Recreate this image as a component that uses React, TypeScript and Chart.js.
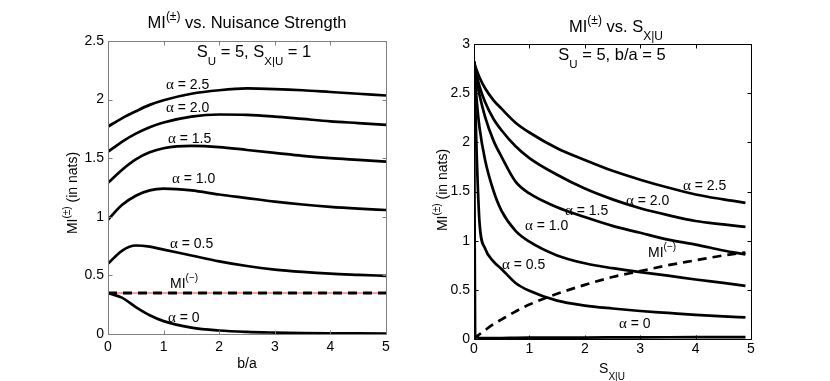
import React, { useEffect, useRef } from 'react';
import { Chart, registerables } from 'chart.js';
Chart.register(...registerables);

const SANS = '"Liberation Sans", Arial, sans-serif';
const SERIF = '"Liberation Serif", "DejaVu Serif", serif';

// ---------- Left panel: MI vs b/a ----------
const baRatio = [0, 0.25, 0.5, 0.75, 1, 1.5, 2, 2.5, 3, 3.5, 4, 4.5, 5];
const leftAlpha25 = [1.77, 1.84, 1.9, 1.955, 1.995, 2.05, 2.08, 2.095, 2.09, 2.08, 2.065, 2.05, 2.035];
const leftAlpha20 = [1.555, 1.64, 1.71, 1.765, 1.805, 1.855, 1.873, 1.87, 1.855, 1.835, 1.815, 1.8, 1.785];
const leftAlpha15 = [1.29, 1.4, 1.49, 1.55, 1.585, 1.605, 1.595, 1.57, 1.545, 1.52, 1.5, 1.485, 1.47];
const leftAlpha10 = [0.975, 1.1, 1.18, 1.225, 1.24, 1.225, 1.19, 1.16, 1.13, 1.105, 1.085, 1.07, 1.058];
const leftAlpha05 = [0.6, 0.71, 0.755, 0.745, 0.72, 0.67, 0.62, 0.58, 0.55, 0.53, 0.515, 0.505, 0.496];
const leftAlpha00 = [0.35, 0.31, 0.23, 0.16, 0.11, 0.055, 0.03, 0.018, 0.012, 0.008, 0.006, 0.005, 0.004];
const leftMIminus = [0.35, 0.35, 0.35, 0.35, 0.35, 0.35, 0.35, 0.35, 0.35, 0.35, 0.35, 0.35, 0.35];
const leftXTicks = [0, 1, 2, 3, 4, 5];
const leftYTicks = [0, 0.5, 1, 1.5, 2, 2.5];

// ---------- Right panel: MI vs S_X|U ----------
const sxu = [0, 0.02, 0.05, 0.1, 0.2, 0.35, 0.5, 0.75, 1, 1.5, 2, 2.5, 3, 3.5, 4, 4.5, 4.9];
const rightAlpha25 = [2.82, 2.78, 2.73, 2.66, 2.55, 2.43, 2.34, 2.2, 2.1, 1.94, 1.82, 1.71, 1.62, 1.54, 1.47, 1.42, 1.385];
const rightAlpha20 = [2.82, 2.76, 2.68, 2.57, 2.41, 2.24, 2.12, 1.96, 1.84, 1.67, 1.53, 1.42, 1.33, 1.26, 1.2, 1.165, 1.14];
const rightAlpha15 = [2.82, 2.74, 2.62, 2.48, 2.26, 2.02, 1.85, 1.6, 1.48, 1.34, 1.24, 1.15, 1.08, 1.01, 0.96, 0.9, 0.86];
const rightAlpha10 = [2.82, 2.65, 2.42, 2.15, 1.82, 1.51, 1.3, 1.1, 0.99, 0.85, 0.77, 0.72, 0.68, 0.645, 0.605, 0.57, 0.54];
const rightAlpha05 = [2.82, 2.45, 1.85, 1.18, 0.92, 0.79, 0.71, 0.57, 0.49, 0.39, 0.34, 0.31, 0.285, 0.265, 0.245, 0.23, 0.22];
const rightAlpha00 = [2.82, 0.05, 0.02, 0.01, 0.01, 0.01, 0.01, 0.012, 0.013, 0.014, 0.015, 0.016, 0.017, 0.018, 0.019, 0.02, 0.02];
const rightMIminus = [0, 0.01, 0.025, 0.048, 0.09, 0.15, 0.2, 0.28, 0.35, 0.46, 0.55, 0.63, 0.69, 0.75, 0.8, 0.85, 0.88];
const rightXTicks = [0, 1, 2, 3, 4, 5];
const rightYTicks = [0, 0.5, 1, 1.5, 2, 2.5, 3];

type Seg = { t: string; size: number; dy?: number; fam?: string };
type TextItem = { segs: Seg[]; x: number; y: number; align: 'left' | 'center'; rotate?: boolean };

function drawRich(ctx: CanvasRenderingContext2D, item: TextItem) {
  ctx.save();
  ctx.fillStyle = '#000';
  ctx.textBaseline = 'alphabetic';
  ctx.textAlign = 'left';
  const widths = item.segs.map((s) => {
    ctx.font = `${s.size}px ${s.fam || SANS}`;
    return ctx.measureText(s.t).width;
  });
  const total = widths.reduce((a, b) => a + b, 0);
  ctx.translate(item.x, item.y);
  if (item.rotate) ctx.rotate(-Math.PI / 2);
  let cx = item.align === 'center' ? -total / 2 : 0;
  item.segs.forEach((s, i) => {
    ctx.font = `${s.size}px ${s.fam || SANS}`;
    ctx.fillText(s.t, cx, s.dy || 0);
    cx += widths[i];
  });
  ctx.restore();
}

const alpha = (v: string): Seg[] => [
  { t: 'α', size: 15, fam: SERIF },
  { t: ' = ' + v, size: 14 },
];
const miSup = (sup: string, size: number): Seg[] => [
  { t: 'MI', size },
  { t: sup, size: Math.round(size * 0.72), dy: -size * 0.47 },
];

const leftTexts: TextItem[] = [
  { segs: [...miSup('(±)', 16.5), { t: ' vs. Nuisance Strength', size: 16.5 }], x: 247, y: 28, align: 'center' },
  {
    segs: [
      { t: 'S', size: 16.5 }, { t: 'U', size: 11.5, dy: 8 }, { t: ' = 5, S', size: 16.5 },
      { t: 'X|U', size: 11.5, dy: 8 }, { t: ' = 1', size: 16.5 },
    ],
    x: 254, y: 57, align: 'center',
  },
  { segs: alpha('2.5'), x: 166, y: 89, align: 'left' },
  { segs: alpha('2.0'), x: 166, y: 111.5, align: 'left' },
  { segs: alpha('1.5'), x: 168, y: 142.5, align: 'left' },
  { segs: alpha('1.0'), x: 172, y: 183, align: 'left' },
  { segs: alpha('0.5'), x: 170, y: 248, align: 'left' },
  { segs: miSup('(−)', 14), x: 170, y: 287.5, align: 'left' },
  { segs: alpha('0'), x: 168, y: 321.5, align: 'left' },
  { segs: [...miSup('(±)', 14), { t: ' (in nats)', size: 14 }], x: 77, y: 193, align: 'center', rotate: true },
  { segs: [{ t: 'b/a', size: 14 }], x: 247, y: 368, align: 'center' },
];

const rightTexts: TextItem[] = [
  {
    segs: [...miSup('(±)', 16.5), { t: ' vs. S', size: 16.5 }, { t: 'X|U', size: 12, dy: 8.5 }],
    x: 201, y: 31.5, align: 'center',
  },
  {
    segs: [{ t: 'S', size: 16.5 }, { t: 'U', size: 11.5, dy: 8 }, { t: ' = 5, b/a = 5', size: 16.5 }],
    x: 197, y: 60, align: 'center',
  },
  { segs: alpha('2.5'), x: 268, y: 190, align: 'left' },
  { segs: alpha('2.0'), x: 211, y: 205, align: 'left' },
  { segs: alpha('1.5'), x: 150, y: 215, align: 'left' },
  { segs: alpha('1.0'), x: 110, y: 230, align: 'left' },
  { segs: alpha('0.5'), x: 87, y: 269, align: 'left' },
  { segs: miSup('(−)', 14), x: 233, y: 257, align: 'left' },
  { segs: alpha('0'), x: 204, y: 328, align: 'left' },
  { segs: [...miSup('(±)', 14), { t: ' (in nats)', size: 14 }], x: 32, y: 190, align: 'center', rotate: true },
  { segs: [{ t: 'S', size: 14 }, { t: 'X|U', size: 10, dy: 7 }], x: 197, y: 373, align: 'center' },
];

function makePlugins(texts: TextItem[], frameColor: string, xTicks: number[], yTicks: number[]) {
  return [
    {
      id: 'frameAndText',
      afterDatasetsDraw(chart: any) {
        const { ctx, chartArea, scales } = chart;
        const { left, right, top, bottom } = chartArea;
        ctx.save();
        ctx.strokeStyle = frameColor;
        ctx.lineWidth = 1;
        const L = Math.round(left) + 0.5;
        const R = Math.round(right) + 0.5;
        const T = Math.round(top) + 0.5;
        const B = Math.round(bottom) + 0.5;
        ctx.beginPath();
        ctx.rect(L, T, R - L, B - T);
        const tl = 4;
        xTicks.forEach((v) => {
          const px = Math.round(scales.x.getPixelForValue(v)) + 0.5;
          ctx.moveTo(px, B); ctx.lineTo(px, B - tl);
          ctx.moveTo(px, T); ctx.lineTo(px, T + tl);
        });
        yTicks.forEach((v) => {
          const py = Math.round(scales.y.getPixelForValue(v)) + 0.5;
          ctx.moveTo(L, py); ctx.lineTo(L + tl, py);
          ctx.moveTo(R, py); ctx.lineTo(R - tl, py);
        });
        ctx.stroke();
        ctx.restore();
      },
      afterDraw(chart: any) {
        texts.forEach((t) => drawRich(chart.ctx, t));
      },
    },
  ];
}

function line(xs: number[], ys: number[], extra: any = {}) {
  return {
    data: xs.map((x, i) => ({ x, y: ys[i] })),
    borderColor: '#000',
    borderWidth: 2.7,
    pointRadius: 0,
    fill: false,
    cubicInterpolationMode: 'monotone',
    order: 0,
    ...extra,
  };
}

function scaleOpts(min: number, max: number, ticks: number[], fit: (s: any) => void, pad: number) {
  return {
    type: 'linear',
    min,
    max,
    afterFit: fit,
    afterBuildTicks: (s: any) => {
      s.ticks = ticks.map((v) => ({ value: v }));
    },
    grid: { display: false, drawTicks: false },
    border: { display: false },
    ticks: {
      padding: pad,
      color: '#000',
      autoSkip: false,
      maxRotation: 0,
      font: { size: 14, family: SANS },
      callback: (v: any) => String(v),
    },
  };
}

function LeftChart() {
  const ref = useRef<HTMLCanvasElement>(null);
  useEffect(() => {
    const chart = new Chart(ref.current as HTMLCanvasElement, {
      type: 'line',
      data: {
        datasets: [
          line(baRatio, leftAlpha25),
          line(baRatio, leftAlpha20),
          line(baRatio, leftAlpha15),
          line(baRatio, leftAlpha10),
          line(baRatio, leftAlpha05),
          line(baRatio, leftAlpha00),
          line(baRatio, leftMIminus, { borderDash: [9, 6], borderWidth: 2.8, order: 0 }),
          line(baRatio, leftMIminus, { borderColor: '#ff9c9c', borderWidth: 2, order: 5 }),
        ] as any,
      },
      options: {
        animation: false,
        responsive: false,
        maintainAspectRatio: false,
        events: [],
        layout: { padding: { left: 0, right: 29, top: 41, bottom: 0 } },
        plugins: { legend: { display: false }, tooltip: { enabled: false } },
        scales: {
          x: scaleOpts(0, 5, leftXTicks, (s: any) => { s.height = 47; }, 5),
          y: scaleOpts(0, 2.5, leftYTicks, (s: any) => { s.width = 108; }, 4),
        } as any,
      },
      plugins: makePlugins(leftTexts, '#7f7f7f', leftXTicks, leftYTicks) as any,
    });
    return () => chart.destroy();
  }, []);
  return (
    <canvas ref={ref} width={415} height={381}
      style={{ position: 'absolute', left: 0, top: 0, width: 415, height: 381 }} />
  );
}

function RightChart() {
  const ref = useRef<HTMLCanvasElement>(null);
  useEffect(() => {
    const chart = new Chart(ref.current as HTMLCanvasElement, {
      type: 'line',
      data: {
        datasets: [
          line(sxu, rightAlpha25),
          line(sxu, rightAlpha20),
          line(sxu, rightAlpha15),
          line(sxu, rightAlpha10),
          line(sxu, rightAlpha05),
          line(sxu, rightAlpha00),
          line(sxu, rightMIminus, { borderDash: [9, 6], borderWidth: 2.7 }),
        ] as any,
      },
      options: {
        animation: false,
        responsive: false,
        maintainAspectRatio: false,
        events: [],
        layout: { padding: { left: 0, right: 79, top: 44, bottom: 0 } },
        plugins: { legend: { display: false }, tooltip: { enabled: false } },
        scales: {
          x: scaleOpts(0, 5, rightXTicks, (s: any) => { s.height = 42; }, 2),
          y: scaleOpts(0, 3, rightYTicks, (s: any) => { s.width = 59; }, 4),
        } as any,
      },
      plugins: makePlugins(rightTexts, '#000', rightXTicks, rightYTicks) as any,
    });
    return () => chart.destroy();
  }, []);
  return (
    <canvas ref={ref} width={415} height={381}
      style={{ position: 'absolute', left: 415, top: 0, width: 415, height: 381 }} />
  );
}

export default function App() {
  return (
    <div style={{ position: 'absolute', left: 0, top: 0, width: 830, height: 381, background: '#fff', overflow: 'hidden' }}>
      <LeftChart />
      <RightChart />
    </div>
  );
}
